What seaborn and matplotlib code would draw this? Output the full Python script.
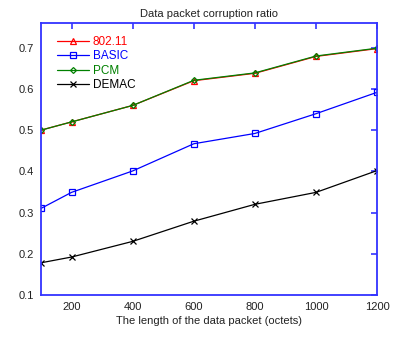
import matplotlib
matplotlib.use("Agg")
import matplotlib.pyplot as plt
import seaborn as sns
import pandas as pd

lengths = [100, 200, 400, 600, 800, 1000, 1200]
ratio_80211 = [0.500, 0.520, 0.560, 0.620, 0.638, 0.679, 0.698]
ratio_basic = [0.310, 0.349, 0.401, 0.467, 0.492, 0.540, 0.592]
ratio_pcm = [0.500, 0.520, 0.560, 0.621, 0.639, 0.680, 0.699]
ratio_demac = [0.178, 0.192, 0.230, 0.279, 0.320, 0.349, 0.402]
series_names = ["802.11", "BASIC", "PCM", "DEMAC"]
x_ticks = [200, 400, 600, 800, 1000, 1200]
y_ticks = [0.1, 0.2, 0.3, 0.4, 0.5, 0.6, 0.7]

sns.set_theme(style="white")
plt.rcParams['font.family'] = ['Liberation Sans', 'DejaVu Sans']

df = pd.DataFrame({
    "length": lengths * 4,
    "ratio": ratio_80211 + ratio_basic + ratio_pcm + ratio_demac,
    "series": sum([[n] * len(lengths) for n in series_names], []),
})

colors = {"802.11": "#ff0000", "BASIC": "#0000ff", "PCM": "#008000", "DEMAC": "#000000"}
markers = {"802.11": "^", "BASIC": "s", "PCM": "D", "DEMAC": "x"}
msize = {"802.11": 5, "BASIC": 5, "PCM": 3, "DEMAC": 5}

fig = plt.figure(figsize=(3.96, 3.39), dpi=100)
ax = fig.add_axes([0.1035, 0.13, 0.849, 0.802])

for name in series_names:
    sub = df[df.series == name]
    sns.lineplot(data=sub, x="length", y="ratio", ax=ax, color=colors[name],
                 marker=markers[name], markersize=msize[name],
                 markerfacecolor="none", markeredgecolor=colors[name],
                 markeredgewidth=0.9, linewidth=0.9, label=name)

ax.set_xlim(100, 1200)
ax.set_ylim(0.1, 0.76)
ax.set_xticks(x_ticks)
ax.set_yticks(y_ticks)
ax.set_yticklabels([f"{v:.1f}" for v in y_ticks])
ax.tick_params(direction="in", length=4, width=1.2, color="#3333ff",
               top=True, right=True, labelsize=8, labelcolor="#222222", pad=5)
for s in ax.spines.values():
    s.set_color("#3333ff")
    s.set_linewidth(1.3)
ax.set_xlabel("The length of the data packet (octets)", fontsize=8, color="#222222", labelpad=3)
ax.set_ylabel("")
ax.set_title("Data packet corruption ratio", fontsize=8, color="#222222", pad=4)

leg = ax.legend(loc="upper left", bbox_to_anchor=(0.048, 0.952), frameon=False,
                fontsize=8.5, handlelength=2.7, handletextpad=0.3,
                labelspacing=0.2, borderaxespad=0.0, borderpad=0.0)
for t, name in zip(leg.get_texts(), series_names):
    t.set_color(colors[name])

fig.savefig("out.png", dpi=100)
